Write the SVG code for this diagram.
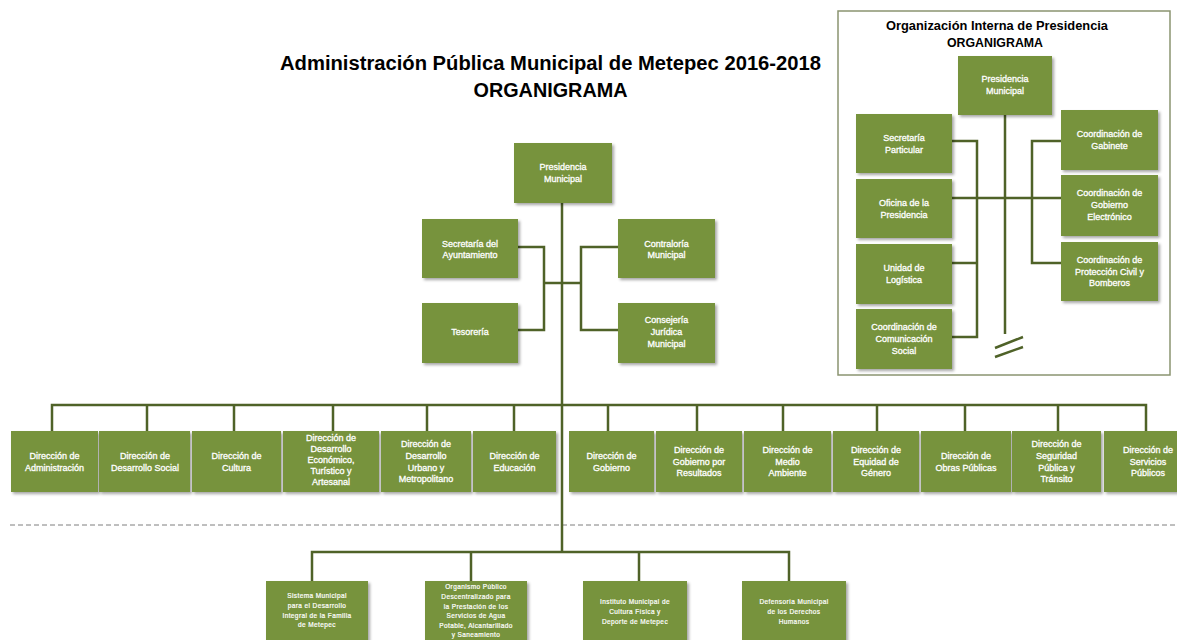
<svg xmlns="http://www.w3.org/2000/svg" width="1177" height="640" viewBox="0 0 1177 640">
<style>
.box{fill:#77933c;filter:url(#sh)}
.t{font-family:"Liberation Sans",Arial,sans-serif;font-size:9px;fill:#ffffff;stroke:#ffffff;stroke-width:0.3;text-anchor:middle}
.s{font-family:"Liberation Sans",Arial,sans-serif;font-size:6.5px;letter-spacing:0.4px;fill:#ffffff;stroke:#ffffff;stroke-width:0.2;text-anchor:middle}
.c{fill:none;stroke:#4f6228;stroke-width:2.5}
.ttl{font-family:"Liberation Sans",Arial,sans-serif;font-weight:bold;fill:#000;text-anchor:middle}
</style>
<defs>
<filter id="sh" x="-10%" y="-10%" width="130%" height="130%">
<feDropShadow dx="2" dy="2" stdDeviation="1.5" flood-color="#000" flood-opacity="0.35"/>
</filter>
</defs>
<rect width="1177" height="640" fill="#ffffff"/>

<g id="title">
<text class="ttl" x="550.5" y="70" font-size="20" textLength="541" lengthAdjust="spacingAndGlyphs">Administración Pública Municipal de Metepec 2016-2018</text>
<text class="ttl" x="550.5" y="97" font-size="20" textLength="154" lengthAdjust="spacingAndGlyphs">ORGANIGRAMA</text>
</g>

<line x1="10" y1="525" x2="1177" y2="525" stroke="#7f7f7f" stroke-width="1" stroke-dasharray="5,3"/>

<g id="connectors">
<path class="c" d="M562,203 V552"/>
<path class="c" d="M518,247 H544 V330 H518 M544,283 H581"/>
<path class="c" d="M618,247 H581 V330 H618"/>
<path class="c" d="M52,431 V405 H1146 V431 M147,405 V431 M234,405 V431 M333,405 V431 M427,405 V431 M514,405 V431 M608,405 V431 M697,405 V431 M783,405 V431 M877,405 V431 M965,405 V431 M1058,405 V431"/>
<path class="c" d="M312,581 V552 H789 V581 M471,552 V581 M639,552 V581"/>
<path class="c" d="M1005,115 V334 M952,198 H1061 M952,141 H977 V337 H952 M977,263 H952 M1061,141 H1032 V263 H1061"/>
<path class="c" d="M995,348 L1023,337 M995,357 L1023,347"/>
</g>

<g id="presidencia">
<rect class="box" x="514" y="143" width="98" height="60"/>
<text class="t"><tspan x="563" y="170">Presidencia</tspan><tspan x="563" y="182">Municipal</tspan></text>
</g>
<g id="secretaria-ayuntamiento">
<rect class="box" x="422" y="219" width="96" height="59"/>
<text class="t"><tspan x="470" y="247">Secretaría del</tspan><tspan x="470" y="258">Ayuntamiento</tspan></text>
</g>
<g id="tesoreria">
<rect class="box" x="422" y="303" width="96" height="60"/>
<text class="t"><tspan x="470" y="335">Tesorería</tspan></text>
</g>
<g id="contraloria">
<rect class="box" x="618" y="219" width="97" height="59"/>
<text class="t"><tspan x="666.5" y="247">Contraloría</tspan><tspan x="666.5" y="258">Municipal</tspan></text>
</g>
<g id="consejeria">
<rect class="box" x="618" y="303" width="97" height="60"/>
<text class="t"><tspan x="666.5" y="323">Consejería</tspan><tspan x="666.5" y="335">Jurídica</tspan><tspan x="666.5" y="347">Municipal</tspan></text>
</g>

<g id="dir-administracion">
<rect class="box" x="11" y="431" width="87" height="61"/>
<text class="t"><tspan x="54.5" y="459">Dirección de</tspan><tspan x="54.5" y="470.5">Administración</tspan></text>
</g>
<g id="dir-desarrollo-social">
<rect class="box" x="99" y="431" width="91" height="61"/>
<text class="t"><tspan x="145" y="459">Dirección de</tspan><tspan x="145" y="470.5">Desarrollo Social</tspan></text>
</g>
<g id="dir-cultura">
<rect class="box" x="192" y="431" width="89" height="61"/>
<text class="t"><tspan x="236.5" y="459">Dirección de</tspan><tspan x="236.5" y="470.5">Cultura</tspan></text>
</g>
<g id="dir-desarrollo-economico">
<rect class="box" x="283" y="431" width="96" height="61"/>
<text class="t"><tspan x="331" y="441">Dirección de</tspan><tspan x="331" y="452">Desarrollo</tspan><tspan x="331" y="463">Económico,</tspan><tspan x="331" y="474">Turístico y</tspan><tspan x="331" y="485">Artesanal</tspan></text>
</g>
<g id="dir-desarrollo-urbano">
<rect class="box" x="381" y="431" width="90" height="61"/>
<text class="t"><tspan x="426" y="447">Dirección de</tspan><tspan x="426" y="459">Desarrollo</tspan><tspan x="426" y="470.5">Urbano y</tspan><tspan x="426" y="482">Metropolitano</tspan></text>
</g>
<g id="dir-educacion">
<rect class="box" x="473" y="431" width="83" height="61"/>
<text class="t"><tspan x="514.5" y="459">Dirección de</tspan><tspan x="514.5" y="470.5">Educación</tspan></text>
</g>
<g id="dir-gobierno">
<rect class="box" x="569" y="431" width="85" height="61"/>
<text class="t"><tspan x="611.5" y="459">Dirección de</tspan><tspan x="611.5" y="470.5">Gobierno</tspan></text>
</g>
<g id="dir-gobierno-resultados">
<rect class="box" x="656" y="431" width="86" height="61"/>
<text class="t"><tspan x="699" y="453">Dirección de</tspan><tspan x="699" y="464.5">Gobierno por</tspan><tspan x="699" y="476">Resultados</tspan></text>
</g>
<g id="dir-medio-ambiente">
<rect class="box" x="744" y="431" width="87" height="61"/>
<text class="t"><tspan x="787.5" y="453">Dirección de</tspan><tspan x="787.5" y="464.5">Medio</tspan><tspan x="787.5" y="476">Ambiente</tspan></text>
</g>
<g id="dir-equidad-genero">
<rect class="box" x="833" y="431" width="86" height="61"/>
<text class="t"><tspan x="876" y="453">Dirección de</tspan><tspan x="876" y="464.5">Equidad de</tspan><tspan x="876" y="476">Género</tspan></text>
</g>
<g id="dir-obras-publicas">
<rect class="box" x="921" y="431" width="90" height="61"/>
<text class="t"><tspan x="966" y="459">Dirección de</tspan><tspan x="966" y="470.5">Obras Públicas</tspan></text>
</g>
<g id="dir-seguridad">
<rect class="box" x="1012" y="431" width="89" height="61"/>
<text class="t"><tspan x="1056.5" y="447">Dirección de</tspan><tspan x="1056.5" y="459">Seguridad</tspan><tspan x="1056.5" y="470.5">Pública y</tspan><tspan x="1056.5" y="482">Tránsito</tspan></text>
</g>
<g id="dir-servicios-publicos">
<rect class="box" x="1104" y="431" width="84" height="61"/>
<text class="t"><tspan x="1148" y="453">Dirección de</tspan><tspan x="1148" y="464.5">Servicios</tspan><tspan x="1148" y="476">Públicos</tspan></text>
</g>

<g id="dif">
<rect class="box" x="266" y="581" width="102" height="60"/>
<text class="s"><tspan x="317" y="598">Sistema Municipal</tspan><tspan x="317" y="608">para el Desarrollo</tspan><tspan x="317" y="617.5">Integral de la Familia</tspan><tspan x="317" y="627">de Metepec</tspan></text>
</g>
<g id="organismo-agua">
<rect class="box" x="425" y="581" width="102" height="60"/>
<text class="s"><tspan x="476" y="589">Organismo Público</tspan><tspan x="476" y="599">Descentralizado para</tspan><tspan x="476" y="608.5">la Prestación de los</tspan><tspan x="476" y="618">Servicios de Agua</tspan><tspan x="476" y="627.5">Potable, Alcantarillado</tspan><tspan x="476" y="637">y Saneamiento</tspan></text>
</g>
<g id="instituto-cultura-fisica">
<rect class="box" x="583" y="581" width="104" height="60"/>
<text class="s"><tspan x="635" y="604">Instituto Municipal de</tspan><tspan x="635" y="614">Cultura Física y</tspan><tspan x="635" y="624">Deporte de Metepec</tspan></text>
</g>
<g id="defensoria">
<rect class="box" x="742" y="581" width="104" height="60"/>
<text class="s"><tspan x="794" y="604">Defensoría Municipal</tspan><tspan x="794" y="614">de los Derechos</tspan><tspan x="794" y="624">Humanos</tspan></text>
</g>

<g id="inset">
<rect x="838" y="11" width="332" height="364" fill="none" stroke="#8a9470" stroke-width="1.5"/>
<text class="ttl" x="997" y="30" font-size="12.5" textLength="222" lengthAdjust="spacingAndGlyphs">Organización Interna de Presidencia</text>
<text class="ttl" x="995" y="47" font-size="12.5" textLength="96" lengthAdjust="spacingAndGlyphs">ORGANIGRAMA</text>
</g>
<g id="inset-presidencia">
<rect class="box" x="958" y="56" width="94" height="59"/>
<text class="t"><tspan x="1005" y="82">Presidencia</tspan><tspan x="1005" y="94">Municipal</tspan></text>
</g>
<g id="secretaria-particular">
<rect class="box" x="856" y="114" width="96" height="59"/>
<text class="t"><tspan x="904" y="141">Secretaría</tspan><tspan x="904" y="152.5">Particular</tspan></text>
</g>
<g id="oficina-presidencia">
<rect class="box" x="856" y="179" width="96" height="59"/>
<text class="t"><tspan x="904" y="206">Oficina de la</tspan><tspan x="904" y="218">Presidencia</tspan></text>
</g>
<g id="unidad-logistica">
<rect class="box" x="856" y="244" width="96" height="60"/>
<text class="t"><tspan x="904" y="271">Unidad de</tspan><tspan x="904" y="283">Logística</tspan></text>
</g>
<g id="coord-comunicacion">
<rect class="box" x="856" y="309" width="96" height="60"/>
<text class="t"><tspan x="904" y="330">Coordinación de</tspan><tspan x="904" y="342">Comunicación</tspan><tspan x="904" y="354">Social</tspan></text>
</g>
<g id="coord-gabinete">
<rect class="box" x="1061" y="110" width="97" height="60"/>
<text class="t"><tspan x="1109.5" y="137">Coordinación de</tspan><tspan x="1109.5" y="149">Gabinete</tspan></text>
</g>
<g id="coord-gobierno-electronico">
<rect class="box" x="1061" y="175" width="97" height="61"/>
<text class="t"><tspan x="1109.5" y="196">Coordinación de</tspan><tspan x="1109.5" y="208">Gobierno</tspan><tspan x="1109.5" y="219.5">Electrónico</tspan></text>
</g>
<g id="coord-proteccion-civil">
<rect class="box" x="1061" y="242" width="97" height="59"/>
<text class="t"><tspan x="1109.5" y="263">Coordinación de</tspan><tspan x="1109.5" y="274.5">Protección Civil y</tspan><tspan x="1109.5" y="286">Bomberos</tspan></text>
</g>
</svg>
